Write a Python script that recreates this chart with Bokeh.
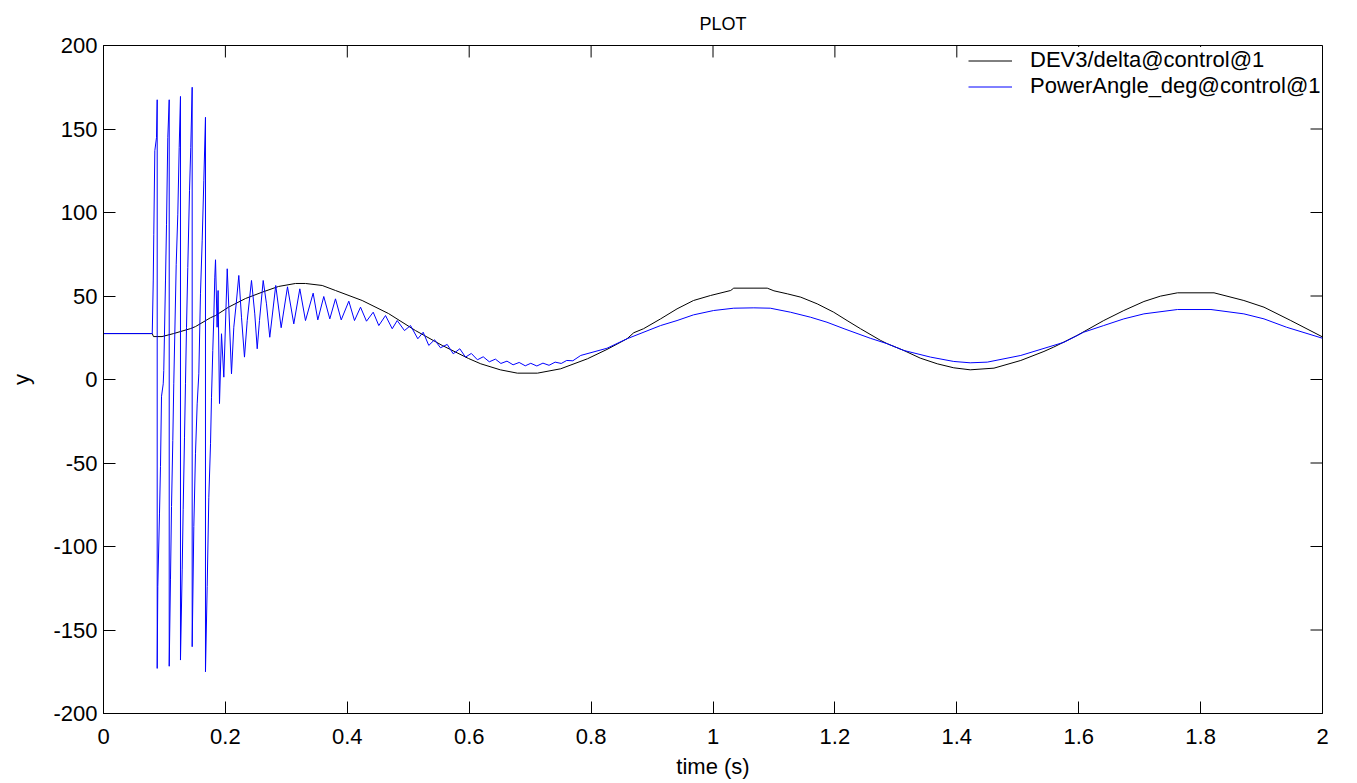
from bokeh.plotting import figure
from bokeh.models import Range1d, FixedTicker, Legend, LegendItem
from bokeh.embed import file_html
from bokeh.resources import INLINE

# ---------------- data ----------------
x_ticks = [0, 0.2, 0.4, 0.6, 0.8, 1.0, 1.2, 1.4, 1.6, 1.8, 2.0]
x_tick_labels = ["0", "0.2", "0.4", "0.6", "0.8", "1", "1.2", "1.4", "1.6", "1.8", "2"]
y_ticks = [-200, -150, -100, -50, 0, 50, 100, 150, 200]
y_tick_labels = ["-200", "-150", "-100", "-50", "0", "50", "100", "150", "200"]

series_names = ["DEV3/delta@control@1", "PowerAngle_deg@control@1"]

black_t = [0.000, 0.080, 0.082, 0.096, 0.115, 0.143, 0.151, 0.1756, 0.1838, 0.2051,
           0.2330, 0.2604, 0.2871, 0.3150, 0.3314, 0.3588, 0.3806, 0.4244, 0.4676,
           0.5119, 0.5557, 0.5988, 0.619, 0.651, 0.679, 0.712, 0.750, 0.794, 0.826,
           0.859, 0.870, 0.886, 0.914, 0.941, 0.968, 0.996, 1.029, 1.034, 1.089, 1.100,
           1.122, 1.144, 1.171, 1.198, 1.220, 1.242, 1.275, 1.286, 1.313, 1.340, 1.368,
           1.395, 1.422, 1.461, 1.505, 1.543, 1.559, 1.597, 1.641, 1.674, 1.707, 1.734,
           1.762, 1.822, 1.871, 1.904, 1.948, 2.000]
black_v = [27.5, 27.5, 25.7, 25.7, 27.5, 30.5, 31.7, 37.0, 38.3, 43.3,
           48.5, 52.3, 55.7, 57.5, 57.5, 56.3, 53.3, 47.3, 39.5,
           29.3, 20.4, 12.6, 9.4, 5.8, 3.8, 3.8, 6.4, 12.4, 18.0,
           24.4, 28.0, 30.4, 36.3, 42.3, 47.3, 50.3, 53.3, 54.7, 54.7, 53.1,
           51.3, 49.3, 45.3, 40.3, 35.3, 30.4, 23.4, 21.4, 17.4, 12.8, 9.4,
           7.0, 5.8, 6.8, 11.4, 16.8, 19.4, 26.3, 35.3, 41.3, 46.7, 49.9,
           51.9, 51.9, 47.3, 43.3, 35.3, 25.5]

blue_t = [0.000, 0.080, 0.0816, 0.0825, 0.0842, 0.0870, 0.0881,
          0.0881, 0.0891, 0.0919, 0.0935, 0.0952, 0.0980, 0.0989, 0.1017, 0.1034, 0.1055, 0.1078,
          0.1078, 0.1099, 0.1116, 0.1137, 0.1153, 0.1170, 0.1193, 0.1219, 0.1242, 0.1263,
          0.1263, 0.1291, 0.1307, 0.1329, 0.1345, 0.1362, 0.1383, 0.1411, 0.1432, 0.1455,
          0.1455, 0.1482, 0.1509, 0.1537, 0.1564, 0.1591, 0.1619, 0.1646, 0.1673,
          0.1673, 0.1701, 0.1728, 0.1756, 0.1772, 0.1793, 0.1810, 0.1826, 0.1838,
          0.1864, 0.1880, 0.1903, 0.1936, 0.1974, 0.2030, 0.2056, 0.2100, 0.2138, 0.2177,
          0.2220, 0.2264, 0.2313, 0.2358, 0.2428, 0.2482, 0.2522, 0.2559, 0.2620, 0.2674,
          0.2728, 0.2826, 0.2915, 0.3019, 0.3122, 0.3221, 0.3314, 0.3440, 0.3516, 0.3614,
          0.3713, 0.3806, 0.3900, 0.4025, 0.4118, 0.4217, 0.4315, 0.4425, 0.4517, 0.4627,
          0.4737, 0.4819, 0.4938, 0.5037, 0.5157, 0.5245, 0.5337, 0.5431, 0.5529, 0.5639,
          0.5738, 0.5846, 0.5939, 0.6035, 0.6135, 0.623, 0.633, 0.643, 0.652, 0.662,
          0.672, 0.682, 0.692, 0.701, 0.711, 0.721, 0.731, 0.741, 0.751, 0.760, 0.770,
          0.783, 0.826, 0.859, 0.914, 0.941, 0.968, 1.001, 1.034, 1.067, 1.094, 1.127,
          1.160, 1.187, 1.215, 1.258, 1.286, 1.313, 1.357, 1.395, 1.422, 1.450, 1.505,
          1.576, 1.608, 1.641, 1.674, 1.707, 1.762, 1.817, 1.871, 1.904, 1.941, 2.000]
blue_v = [27.5, 27.5, 59, 87, 137, 145, 167.5,
          -173, -124, -80, -52, -10, -2.6, 5.4, 59, 93, 145, 167.5,
          -171.7, -120, -76, -36.5, -2.6, 27.4, 69, 99, 139, 169.5,
          -168, -114, -78, -34.5, -2.6, 31.3, 67, 113, 139, 175,
          -160, -88, -44.5, -14.6, 3.4, 51.3, 83, 119, 157,
          -175, -124, -70.5, -38.5, -10.6, 17.4, 37.3, 61.3, 71.7,
          31.3, 53.3, -14.4, 27.4, 1.4, 66.3, 43.3, 3.4, 31.3, 45.3,
          62.3, 37.3, 13.4, 35.3, 59.3, 39.3, 18.4, 35.3, 59.3, 45.3,
          25.3, 56.3, 31.0, 55.5, 33.3, 54.3, 35.3, 51.7, 35.7, 49.7,
          36.3, 48.3, 35.7, 46.9, 35.3, 43.3, 34.9, 40.3, 32.3, 38.3,
          30.4, 35.3, 29.3, 32.3, 24.4, 28.3, 20.4, 23.8, 19.0, 21.0,
          15.4, 18.4, 13.4, 15.6, 11.8, 13.6, 10.6, 12.2, 9.6, 11.0,
          8.8, 10.2, 8.2, 9.7, 8.1, 9.8, 8.5, 10.4, 9.6, 11.4, 11.2,
          14.4, 18.7, 24.4, 32.3, 35.3, 38.7, 41.3, 42.7, 42.9, 42.7, 40.3,
          37.3, 34.3, 30.4, 24.7, 21.4, 17.4, 13.4, 10.8, 10.0, 10.4, 14.4,
          22.3, 28.3, 32.3, 36.3, 39.3, 41.9, 41.9, 39.3, 36.3, 31.3, 24.7]

# ---------------- figure ----------------
FONT = "Liberation Sans"
X0, X1, Y0, Y1 = 0, 2, -200, 200

p = figure(width=1357, height=783, output_backend="svg", toolbar_location=None,
           x_range=Range1d(X0, X1), y_range=Range1d(Y0, Y1),
           min_border_left=103, min_border_right=35, min_border_top=44, min_border_bottom=70,
           background_fill_color="white", border_fill_color="white")

p.title.text = "PLOT"
p.title.align = "left"
p.title.offset = 596
p.title.vertical_align = "bottom"
p.title.standoff = 23
p.title.text_font = FONT
p.title.text_font_size = "18px"
p.title.text_font_style = "normal"
p.title.text_color = "black"

p.xgrid.visible = False
p.ygrid.visible = False
p.outline_line_color = "black"
p.outline_line_width = 1
p.outline_line_alpha = 1


def style_axis(ax):
    ax.major_tick_in = 12
    ax.major_tick_out = 0
    ax.minor_tick_line_color = None
    ax.axis_line_color = "black"
    ax.major_tick_line_color = "black"
    ax.major_label_text_font = FONT
    ax.major_label_text_color = "black"
    ax.major_label_text_font_size = "22px"
    ax.axis_label_text_font = FONT
    ax.axis_label_text_font_style = "normal"
    ax.axis_label_text_color = "black"
    ax.axis_label_text_font_size = "22px"


xax = p.xaxis[0]
xax.ticker = FixedTicker(ticks=x_ticks)
xax.major_label_overrides = {t: l for t, l in zip(x_ticks, x_tick_labels)}
style_axis(xax)
xax.major_label_standoff = 15
xax.axis_label = "time (s)"
xax.axis_label_standoff = 7

yax = p.yaxis[0]
yax.ticker = FixedTicker(ticks=y_ticks)
yax.major_label_overrides = {t: l for t, l in zip(y_ticks, y_tick_labels)}
style_axis(yax)
yax.major_label_standoff = 6
yax.axis_label = "y"
yax.axis_label_standoff = 16

# inward ticks on the top and right edges of the box (MATLAB style), 12 px long
tick_px = 12
frame_w_px, frame_h_px = 1357 - 103 - 35, 783 - 44 - 70
dy = tick_px * (Y1 - Y0) / frame_h_px
dx = tick_px * (X1 - X0) / frame_w_px
p.segment(x0=x_ticks, y0=[Y1] * len(x_ticks), x1=x_ticks, y1=[Y1 - dy] * len(x_ticks),
          line_color="black", line_width=1)
p.segment(x0=[X1] * len(y_ticks), y0=y_ticks, x1=[X1 - dx] * len(y_ticks), y1=y_ticks,
          line_color="black", line_width=1)

r_black = p.line(black_t, black_v, line_color="black", line_width=1)
r_blue = p.line(blue_t, blue_v, line_color="#0000ff", line_width=1)

legend = Legend(items=[LegendItem(label=series_names[0], renderers=[r_black]),
                       LegendItem(label=series_names[1], renderers=[r_blue])],
                location=(865, 614), padding=13, spacing=0,
                label_height=25, glyph_height=25, glyph_width=44, label_standoff=18,
                label_text_font=FONT, label_text_font_size="22px", label_text_color="black",
                background_fill_color="white", background_fill_alpha=1.0,
                border_line_color=None, margin=0)
p.add_layout(legend, "center")

open("out.html", "w").write(file_html(p, INLINE))
